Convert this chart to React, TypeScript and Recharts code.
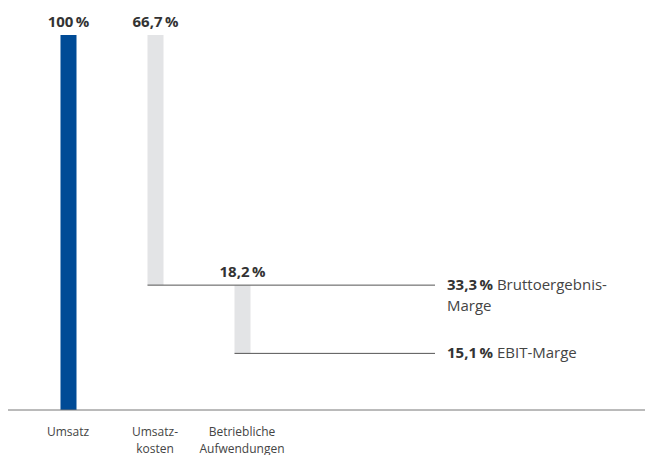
import { BarChart, Bar, XAxis, YAxis, Cell, LabelList } from "recharts";

const categories = ["Umsatz", "Umsatzkosten", "Betriebliche Aufwendungen"];
const tickLines = [["Umsatz"], ["Umsatz-", "kosten"], ["Betriebliche", "Aufwendungen"]];
const baseValues = [0, 33.3, 15.1];
const barValues = [100, 66.7, 18.2];
const marginLabels = [[], ["Bruttoergebnis-", "Marge"], ["EBIT-Marge"]];

const BLUE = "#004b96";
const GRAY = "#e3e4e6";
const FONT = "'Open Sans', sans-serif";
const LINE_END_X = 435;
const MARGIN_TEXT_X = 447;

const data = categories.map((name, i) => ({
  name,
  base: baseValues[i],
  value: barValues[i],
}));

const fmt = (v: number) =>
  (Number.isInteger(v) ? String(v) : v.toFixed(1).replace(".", ",")) + "\u2009%";

function Tick(props: any) {
  const { x, y, index } = props;
  const lines = tickLines[index] || [];
  return (
    <text
      x={x}
      y={y + 26}
      textAnchor="middle"
      fill="#444"
      fontSize={12}
      fontFamily={FONT}
    >
      {lines.map((line, i) => (
        <tspan key={i} x={x} dy={i === 0 ? 0 : 16.5}>
          {line}
        </tspan>
      ))}
    </text>
  );
}

function TopLabel(props: any) {
  const { x, y, width, value } = props;
  return (
    <text
      x={x + width / 2}
      y={y - 8}
      textAnchor="middle"
      fill="#333"
      fontSize={15}
      fontWeight={700}
      fontFamily={FONT}
    >
      {fmt(value)}
    </text>
  );
}

function MarginLabel(props: any) {
  const { x, y, value } = props;
  const idx = baseValues.indexOf(value);
  const lines = idx >= 0 ? marginLabels[idx] : [];
  if (!value || !lines || lines.length === 0) return null;
  return (
    <g>
      <line x1={x} x2={LINE_END_X} y1={y} y2={y} stroke="#555" strokeWidth={1} />
      <text x={MARGIN_TEXT_X} y={y + 5} fill="#444" fontSize={15} fontFamily={FONT}>
        <tspan fontWeight={700} fill="#333">{fmt(value)}</tspan>
        <tspan> {lines[0]}</tspan>
        {lines.slice(1).map((l, i) => (
          <tspan key={i} x={MARGIN_TEXT_X} dy={20.5}>
            {l}
          </tspan>
        ))}
      </text>
    </g>
  );
}

export default function App() {
  return (
    <div style={{ position: "absolute", left: 0, top: 0, width: 646, height: 455, background: "#fff" }}>
      <BarChart
        width={646}
        height={455}
        data={data}
        margin={{ top: 35, right: 1, left: 8, bottom: 0 }}
      >
        <XAxis
          dataKey="name"
          height={45}
          padding={{ left: 16.5, right: 359.5 }}
          tickLine={false}
          tickSize={0}
          tickMargin={0}
          tick={<Tick />}
          interval={0}
          axisLine={{ stroke: "#777", strokeWidth: 1 }}
        />
        <YAxis hide domain={[0, 100]} />
        <Bar dataKey="base" stackId="w" barSize={16} fill="transparent" isAnimationActive={false}>
          <LabelList dataKey="base" content={<MarginLabel />} />
        </Bar>
        <Bar dataKey="value" stackId="w" barSize={16} isAnimationActive={false}>
          {data.map((d, i) => (
            <Cell key={d.name} fill={i === 0 ? BLUE : GRAY} />
          ))}
          <LabelList dataKey="value" content={<TopLabel />} />
        </Bar>
      </BarChart>
    </div>
  );
}
